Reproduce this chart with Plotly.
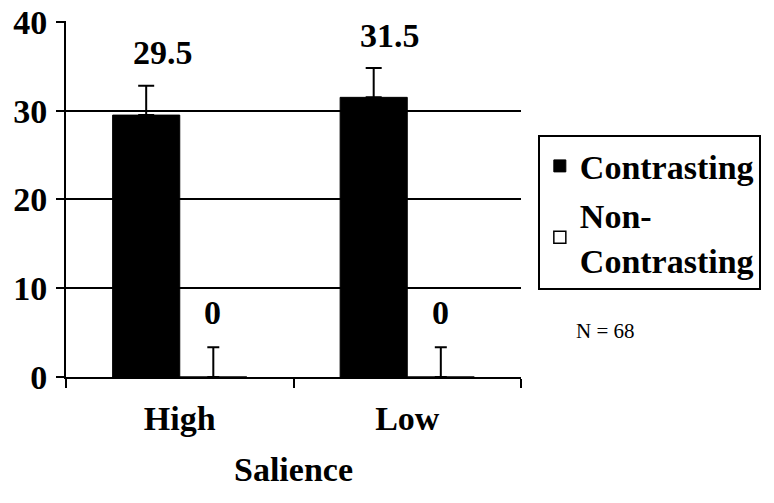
import plotly.graph_objects as go

categories = ["High", "Low"]
contrasting = [29.5, 31.5]
contrasting_err = [3.3, 3.3]
non_contrasting = [0, 0]
non_contrasting_err = [3.35, 3.35]
y_ticks = [0, 10, 20, 30, 40]
series_names = ["Contrasting", "Non-<br>Contrasting"]
note = "N = 68"

FONT = "Liberation Serif"
bold = dict(family=FONT, size=34, color="black", weight="bold")

fig = go.Figure()
fig.add_trace(go.Bar(
    x=categories, y=contrasting, name=series_names[0],
    marker=dict(color="black", line=dict(color="black", width=1)),
    error_y=dict(type="data", array=contrasting_err, symmetric=False,
                 arrayminus=[0, 0], color="black", thickness=2, width=8),
    legendgroup="a",
))
fig.add_trace(go.Bar(
    x=categories, y=non_contrasting, name=series_names[1],
    marker=dict(color="white", line=dict(color="black", width=1.5)),
    error_y=dict(type="data", array=non_contrasting_err, symmetric=False,
                 arrayminus=[0, 0], color="black", thickness=2, width=6),
    legendgroup="b",
))

# value labels
for cat, v, e in zip(categories, contrasting, contrasting_err):
    fig.add_annotation(x=cat, y=v + e, text=f"{v}", showarrow=False,
                       yanchor="middle", yshift=33, xshift=-17, font=bold)
for cat, v, e in zip(categories, non_contrasting, non_contrasting_err):
    fig.add_annotation(x=cat, y=v + e, text=f"{v}", showarrow=False,
                       yanchor="middle", yshift=35, xshift=33, font=bold)

fig.add_annotation(xref="paper", yref="paper", x=1.185, y=0.13, text=note,
                   xanchor="center", yanchor="middle", showarrow=False,
                   font=dict(family=FONT, size=21, color="black"))

fig.update_layout(
    width=766, height=495,
    margin=dict(l=58, r=253, t=13, b=126, autoexpand=False),
    paper_bgcolor="white", plot_bgcolor="white",
    barmode="group", bargap=0.41, bargroupgap=0,
    font=dict(family=FONT, color="black"),
    legend=dict(x=1.037, y=0.679, xanchor="left", yanchor="top",
                bordercolor="black", borderwidth=2, bgcolor="white",
                font=bold, tracegroupgap=2, itemwidth=30),
    xaxis=dict(showline=True, linecolor="black", linewidth=2,
               ticks="outside", ticklen=9, tickwidth=2, tickcolor="black",
               tickson="boundaries", tickfont=bold, automargin=False,
               ticklabelstandoff=10,
               title=dict(text="Salience", font=bold, standoff=21)),
    yaxis=dict(range=[0, 40.1], tickvals=y_ticks, showline=True,
               linecolor="black", linewidth=2, ticks="outside", ticklen=8,
               tickwidth=2, tickcolor="black", showgrid=True,
               gridcolor="black", gridwidth=2, zeroline=False,
               tickfont=bold, ticklabelstandoff=2, automargin=False,
               ticklabeloverflow="allow"),
    showlegend=True,
)

fig.write_html("out.html")
